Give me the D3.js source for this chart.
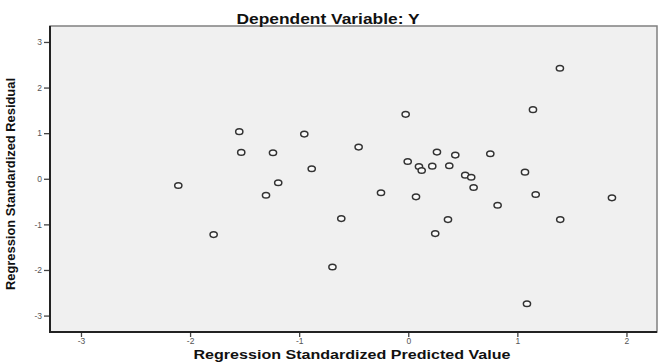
<!DOCTYPE html>
<html lang="en">
<head>
    <meta charset="utf-8">
    <script src='https://d3js.org/d3.v7.min.js'></script>
    <style>
        body { margin: 0; background: #fff; }
        text { font-family: 'Liberation Sans', Arial, sans-serif; }
    </style>
</head>
<body>
<script>
    var width = 669, height = 362;

    // standardized predicted values (x) and residuals (y)
    var predicted = [-1.549, -0.953, -1.531, -1.240, -0.885, -2.108, -1.192, -1.304, -1.784,
        -0.455, -0.614, -0.695, 1.390, 1.143, -0.024, 0.263, 0.431, 0.752, -0.005, 0.098,
        0.123, 0.220, 0.376, 1.070, 0.522, 0.577, 0.599, -0.250, 0.071, 1.168, 1.867,
        0.819, 0.364, 1.393, 0.247, 1.088];
    var residual = [1.033, 0.980, 0.578, 0.571, 0.220, -0.147, -0.088, -0.360, -1.224,
        0.695, -0.873, -1.934, 2.424, 1.516, 1.413, 0.585, 0.519, 0.549, 0.380, 0.270,
        0.182, 0.277, 0.286, 0.145, 0.079, 0.035, -0.191, -0.308, -0.396, -0.345, -0.418,
        -0.580, -0.895, -0.895, -1.202, -2.741];
    var xTicks = [-3, -2, -1, 0, 1, 2];
    var yTicks = [-3, -2, -1, 0, 1, 2, 3];

    var data = predicted.map(function(d, i) { return {x: d, y: residual[i]}; });

    var svg = d3.select('body').append('svg').attr('width', width).attr('height', height);

    var x = d3.scaleLinear().domain([-3.284, 2.28]).range([50, 657]);
    var y = d3.scaleLinear().domain([-3.36, 3.35]).range([332, 26]);

    // plot area
    svg.append('rect')
        .attr('x', x.range()[0]).attr('y', y.range()[1])
        .attr('width', x.range()[1] - x.range()[0])
        .attr('height', y.range()[0] - y.range()[1])
        .attr('fill', '#f0f0f0')
        .attr('stroke', '#808080')
        .attr('stroke-width', 1.5);
    svg.append('path')
        .attr('d', 'M' + x.range()[0] + ',' + y.range()[1] + 'V' + y.range()[0] + 'H' + x.range()[1])
        .attr('fill', 'none')
        .attr('stroke', '#222')
        .attr('stroke-width', 2);

    var fmt = function(d) { return String(d); }; // plain hyphen minus like the original

    var xAxis = svg.append('g')
        .attr('transform', 'translate(0,' + (y.range()[0] + 1) + ')')
        .call(d3.axisBottom(x).tickValues(xTicks).tickSize(4).tickPadding(1).tickFormat(fmt));
    var yAxis = svg.append('g')
        .attr('transform', 'translate(' + (x.range()[0] - 1) + ',0)')
        .call(d3.axisLeft(y).tickValues(yTicks).tickSize(5).tickPadding(2).tickFormat(fmt));

    [xAxis, yAxis].forEach(function(a) {
        a.select('.domain').remove();
        a.selectAll('line').attr('stroke', '#444').attr('stroke-width', 1.3);
        a.selectAll('text').attr('fill', '#555').style('font-size', '8.5px')
            .style('font-family', "'Liberation Sans', Arial, sans-serif");
    });

    // points
    svg.append('g').selectAll('ellipse')
        .data(data)
        .join('ellipse')
        .attr('cx', function(d) { return x(d.x); })
        .attr('cy', function(d) { return y(d.y); })
        .attr('rx', 3.6)
        .attr('ry', 2.8)
        .attr('fill', '#fafafa')
        .attr('stroke', '#333')
        .attr('stroke-width', 1.5);

    // titles
    svg.append('text')
        .attr('x', 328).attr('y', 23.5)
        .attr('text-anchor', 'middle')
        .attr('textLength', 183).attr('lengthAdjust', 'spacingAndGlyphs')
        .style('font-size', '15px').style('font-weight', 'bold').attr('fill', '#111')
        .text('Dependent Variable: Y');

    svg.append('text')
        .attr('x', 352).attr('y', 359)
        .attr('text-anchor', 'middle')
        .attr('textLength', 317).attr('lengthAdjust', 'spacingAndGlyphs')
        .style('font-size', '12.5px').style('font-weight', 'bold').attr('fill', '#111')
        .text('Regression Standardized Predicted Value');

    svg.append('text')
        .attr('transform', 'translate(15,184) rotate(-90)')
        .attr('text-anchor', 'middle')
        .attr('textLength', 212).attr('lengthAdjust', 'spacingAndGlyphs')
        .style('font-size', '12px').style('font-weight', 'bold').attr('fill', '#111')
        .text('Regression Standardized Residual');
</script>
</body>
</html>
